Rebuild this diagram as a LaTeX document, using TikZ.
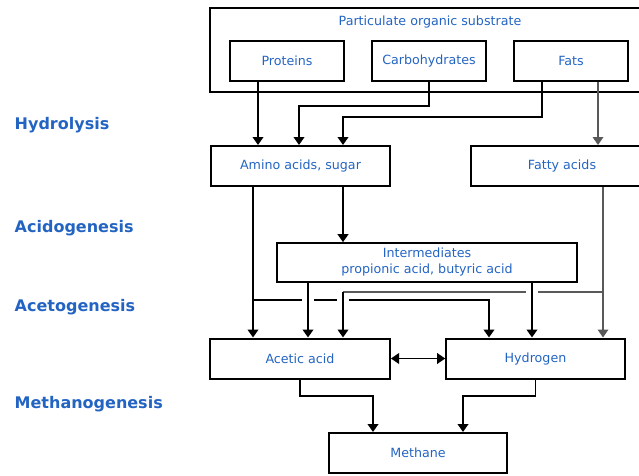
\documentclass[tikz,border=0pt]{standalone}
\usepackage{fontspec}
\setmainfont{DejaVu Sans}
\usetikzlibrary{shapes,arrows.meta}
\definecolor{stageblue}{RGB}{35,100,195}

\begin{document}
\begin{tikzpicture}[x=0.75pt, y=-0.75pt, >={Triangle[width=8pt,length=6pt]}]
			%define block styles
			\tikzset{
				block/.style={rectangle, draw=black, line width=1.5pt, minimum width=85pt, minimum height=30pt, text=stageblue, font=\fontsize{9.5}{12}\selectfont, align=center},
				stage/.style={anchor=west, text=stageblue, font=\fontsize{12}{14}\selectfont\bfseries},
				arr/.style={line width=1.4pt, ->},
				thinarr/.style={line width=1pt, draw=black!65, ->},
				thinline/.style={line width=1pt, draw=black!65},
				hop/.style={preaction={draw=white, line width=9pt, shorten <=4pt, shorten >=4pt, -}},
			}
			\path[use as bounding box, clip] (0,0) rectangle (639,475);
			%define nodes
			\node[block, minimum width=330pt, minimum height=63pt, label={[anchor=north, text=stageblue, font=\fontsize{9.5}{12}\selectfont, yshift=-3pt]north:Particulate organic substrate}](substrate) at (430,50) {};
			\node[block](proteins) at (287,61) {Proteins};
			\node[block](carbs) at (429,61) {Carbohydrates};
			\node[block](fats) at (571,61) {Fats};
			\node[block, minimum width=134pt](amino) at (300.5,166) {Amino acids, sugar};
			\node[block, minimum width=136.5pt](fatty) at (562,166) {Fatty acids};
			\node[block, minimum width=225pt, minimum height=29pt](inter) at (427,262.5) {Intermediates\\propionic acid, butyric acid};
			\node[block, minimum width=135pt](acetic) at (300,358.5) {Acetic acid};
			\node[block, minimum width=134pt](hydrogen) at (535.5,358.5) {Hydrogen};
			\node[block, minimum width=133.5pt](methane) at (418,453) {Methane};
			\node[stage](hydro) at (10,125) {Hydrolysis};
			\node[stage](acido) at (10,228) {Acidogenesis};
			\node[stage](aceto) at (10,307) {Acetogenesis};
			\node[stage](methano) at (10,404) {Methanogenesis};
			%define bend points
			\coordinate (pr) at (258,0);
			\coordinate (cb) at (299,106);
			\coordinate (fl) at (542,117);
			\coordinate (ft) at (343,117);
			\coordinate (fr) at (598,0);
			\coordinate (al) at (253,300);
			\coordinate (ah) at (489,300);
			\coordinate (fd) at (603,292);
			\coordinate (fb) at (343,292);
			\coordinate (ia) at (308,0);
			\coordinate (ib) at (532,0);
			\coordinate (am) at (373,396);
			\coordinate (hm) at (463,396);
			%define arrows
			\draw[arr] (proteins.south -| pr) -- (amino.north -| pr);
			\draw[arr] (carbs.south) |- (cb) -- (amino.north -| cb);
			\draw[arr] (fats.south -| fl) |- (ft) -- (amino.north -| ft);
			\draw[thinarr] (fats.south -| fr) -- (fatty.north -| fr);
			\draw[arr] (amino.south -| ft) -- (inter.north -| ft);
			\draw[arr] (amino.south -| al) -- (acetic.north -| al);
			\draw[arr] (al) -- (ah) -- (hydrogen.north -| ah);
			\draw[thinarr] (fatty.south -| fd) -- (hydrogen.north -| fd);
			\draw[thinline] (fd) -- (fb);
			\draw[arr, hop] (fb) -- (acetic.north -| fb);
			\draw[arr, hop] (inter.south -| ia) -- (acetic.north -| ia);
			\draw[arr, hop] (inter.south -| ib) -- (hydrogen.north -| ib);
			\draw[<->, line width=1pt] (acetic.east) -- (hydrogen.west);
			\draw[arr] (acetic.south) |- (am) -- (methane.north -| am);
			\draw[arr] (hydrogen.south) |- (hm) -- (methane.north -| hm);
		\end{tikzpicture}
\end{document}
